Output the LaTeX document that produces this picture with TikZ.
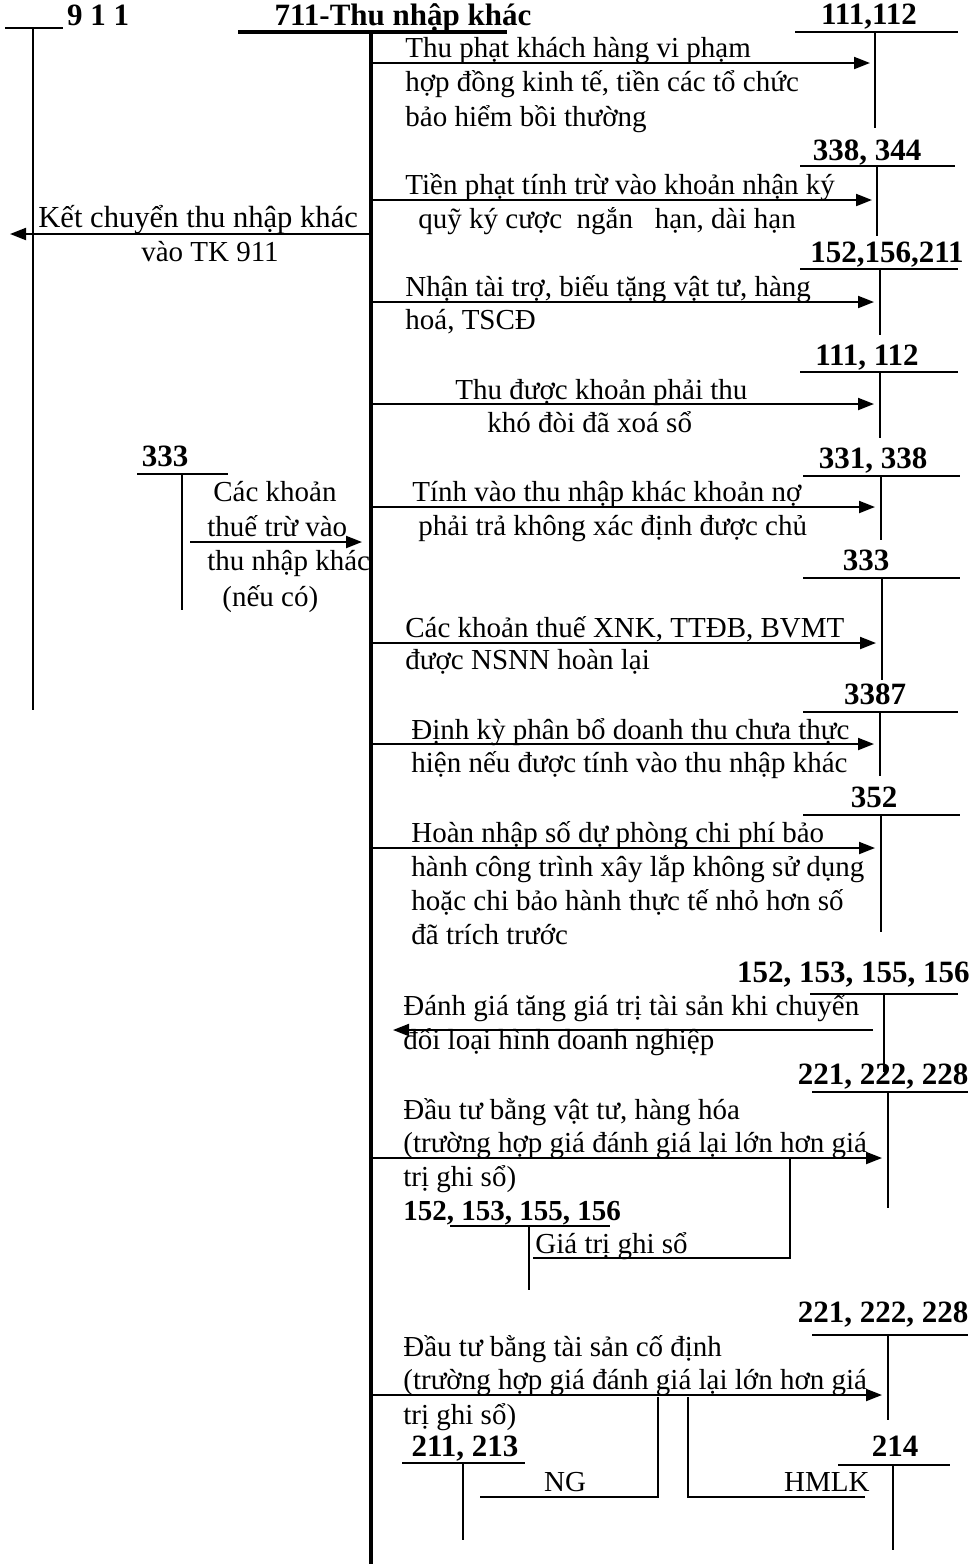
\documentclass[tikz,border=0pt]{standalone}
\usepackage{fontspec}
\setmainfont{Liberation Serif}
\usetikzlibrary{positioning,arrows.meta,calc}

\begin{document}
\begin{tikzpicture}[x=0.5pt,y=-0.5pt,
  acct/.style={font=\fontsize{15.5}{18}\selectfont\bfseries,inner sep=0pt,anchor=base},
  note/.style={font=\fontsize{14.5}{17}\selectfont,inner sep=0pt,anchor=base west},
  tline/.style={line width=1.2pt},
  mainline/.style={line width=2pt},
  flow/.style={line width=1pt,-{Triangle[length=8pt,width=6pt]}},
  link/.style={line width=0.8pt}]
\useasboundingbox (0,0) rectangle (976,1564);

% 711 and 911
\node[acct] (t711) at (403,25) {711-Thu nhập khác};
\coordinate (c711) at (371,32);
\draw[mainline] (238,32) -- (507,32) (c711) -- (371,1564);
\node[acct] (t911) at (98,25) {9 1 1};
\coordinate (c911) at (10,234);
\draw[tline] (5,28) -- (63,28) (33,28) -- (33,710);
\draw[flow] (c711 |- c911) -- (c911);
\node[note,font=\fontsize{15.3}{17}\selectfont] (k1) at (38,227) {Kết chuyển thu nhập khác};
\node[note,anchor=base] (k2) at (210,261) {vào TK 911};

% 111,112
\node[acct] (t111) at (869,24) {111,112};
\draw[tline] (795,32) -- (958,32) (875,32) -- (875,128);
\coordinate (a1) at (870,63);
\draw[flow] (c711 |- a1) -- (a1);
\node[note] (n1a) at (405,57) {Thu phạt khách hàng vi phạm};
\node[note] (n1b) at (405,91) {hợp đồng kinh tế, tiền các tổ chức};
\node[note] (n1c) at (405,126) {bảo hiểm bồi thường};

% 338, 344
\node[acct] (t338) at (867,160) {338, 344};
\draw[tline] (800,166) -- (955,166) (877,166) -- (877,236);
\coordinate (a2) at (872,200);
\draw[flow] (c711 |- a2) -- (a2);
\node[note] (n2a) at (405,194) {Tiền phạt tính trừ vào khoản nhận ký};
\node[note] (n2b) at (418,228) {quỹ ký cược\ \ ngắn\ \ \ hạn, dài hạn};

% 152,156,211
\node[acct] (t152) at (887,262) {152,156,211};
\draw[tline] (800,269) -- (958,269) (880,269) -- (880,335);
\coordinate (a3) at (874,302);
\draw[flow] (c711 |- a3) -- (a3);
\node[note] (n3a) at (405,296) {Nhận tài trợ, biếu tặng vật tư, hàng};
\node[note] (n3b) at (405,329) {hoá, TSCĐ};

% 111, 112
\node[acct] (t111b) at (867,365) {111, 112};
\draw[tline] (800,372) -- (958,372) (880,372) -- (880,438);
\coordinate (a4) at (874,404);
\draw[flow] (c711 |- a4) -- (a4);
\node[note] (n4a) at (455,399) {Thu được khoản phải thu};
\node[note] (n4b) at (487,432) {khó đòi đã xoá sổ};

% 331, 338
\node[acct] (t331) at (873,468) {331, 338};
\draw[tline] (803,476) -- (960,476) (881,476) -- (881,540);
\coordinate (a5) at (875,507);
\draw[flow] (c711 |- a5) -- (a5);
\node[note] (n5a) at (412,501) {Tính vào thu nhập khác khoản nợ};
\node[note] (n5b) at (418,535) {phải trả không xác định được chủ};

% 333 ben trai
\node[acct] (t333l) at (165,466) {333};
\coordinate (c333l) at (190,542);
\draw[tline] (137,474) -- (228,474) (182,474) -- (182,610);
\draw[flow] (c333l) -- ($(c711 |- c333l)+(-9,0)$);
\node[note,anchor=base] (m1) at (275,501) {Các khoản};
\node[note] (m2) at (207,536) {thuế trừ vào};
\node[note] (m3) at (207,570) {thu nhập khác};
\node[note] (m4) at (222,606) {(nếu có)};

% 333
\node[acct] (t333) at (866,570) {333};
\draw[tline] (803,578) -- (960,578) (882,578) -- (882,680);
\coordinate (a6) at (876,643);
\draw[flow] (c711 |- a6) -- (a6);
\node[note] (n6a) at (405,637) {Các khoản thuế XNK, TTĐB, BVMT};
\node[note] (n6b) at (405,669) {được NSNN hoàn lại};

% 3387
\node[acct] (t3387) at (875,704) {3387};
\draw[tline] (803,712) -- (958,712) (880,712) -- (880,776);
\coordinate (a7) at (874,744);
\draw[flow] (c711 |- a7) -- (a7);
\node[note] (n7a) at (411,739) {Định kỳ phân bổ doanh thu chưa thực};
\node[note] (n7b) at (411,772) {hiện nếu được tính vào thu nhập khác};

% 352
\node[acct] (t352) at (874,807) {352};
\draw[tline] (803,815) -- (960,815) (881,815) -- (881,932);
\coordinate (a8) at (875,848);
\draw[flow] (c711 |- a8) -- (a8);
\node[note] (n8a) at (411,842) {Hoàn nhập số dự phòng chi phí bảo};
\node[note] (n8b) at (411,876) {hành công trình xây lắp không sử dụng};
\node[note] (n8c) at (411,910) {hoặc chi bảo hành thực tế nhỏ hơn số};
\node[note] (n8d) at (411,944) {đã trích trước};

% 152, 153, 155, 156
\node[acct,anchor=base east] (t1521) at (970,982) {152, 153, 155, 156};
\draw[tline] (810,994) -- (958,994) (884,994) -- (884,1072);
\coordinate (a9) at (873,1030);
\draw[flow] (a9) -- ($(c711 |- a9)+(22,0)$);
\node[note] (n9a) at (403,1015) {Đánh giá tăng giá trị tài sản khi chuyển};
\node[note] (n9b) at (403,1049) {đổi loại hình doanh nghiệp};

% 221, 222, 228 (vat tu)
\node[acct] (t2211) at (883,1084) {221, 222, 228};
\draw[tline] (812,1092) -- (968,1092) (888,1092) -- (888,1208);
\coordinate (a10) at (882,1158);
\draw[flow] (c711 |- a10) -- (a10);
\node[note] (n10a) at (403,1119) {Đầu tư bằng vật tư, hàng hóa};
\node[note] (n10b) at (403,1152) {(trường hợp giá đánh giá lại lớn hơn giá};
\node[note] (n10c) at (403,1186) {trị ghi sổ)};
\node[acct,anchor=base west,font=\fontsize{14.5}{17}\selectfont\bfseries] (t1522) at (403,1220) {152, 153, 155, 156};
\draw[tline] (450,1226) -- (610,1226) (529,1226) -- (529,1290);
\node[note] (g1) at (535,1253) {Giá trị ghi sổ};
\coordinate (g0) at (533,1258);
\coordinate (g2) at (790,1158);
\draw[link] (g0) -- (g0 -| g2) -- (g2);

% 221, 222, 228 (TSCD)
\node[acct] (t2212) at (883,1322) {221, 222, 228};
\draw[tline] (812,1335) -- (968,1335) (888,1335) -- (888,1420);
\coordinate (a11) at (882,1395);
\draw[flow] (c711 |- a11) -- (a11);
\node[note] (n11a) at (403,1356) {Đầu tư bằng tài sản cố định};
\node[note] (n11b) at (403,1389) {(trường hợp giá đánh giá lại lớn hơn giá};
\node[note] (n11c) at (403,1424) {trị ghi sổ)};
\node[acct] (t211) at (465,1456) {211, 213};
\draw[tline] (402,1463) -- (525,1463) (463,1463) -- (463,1540);
\node[acct] (t214) at (895,1456) {214};
\draw[tline] (838,1465) -- (950,1465) (893,1465) -- (893,1550);
\node[note,anchor=base] (ng) at (565,1491) {NG};
\node[note,anchor=base east] (hm) at (870,1491) {HMLK};
\coordinate (ng0) at (480,1497);
\coordinate (ng1) at (658,1397);
\coordinate (hm0) at (688,1397);
\coordinate (hm1) at (865,1497);
\draw[link] (ng0) -- (ng0 -| ng1) -- (ng1);
\draw[link] (hm0) -- (hm0 |- hm1) -- (hm1);
\end{tikzpicture}
\end{document}
